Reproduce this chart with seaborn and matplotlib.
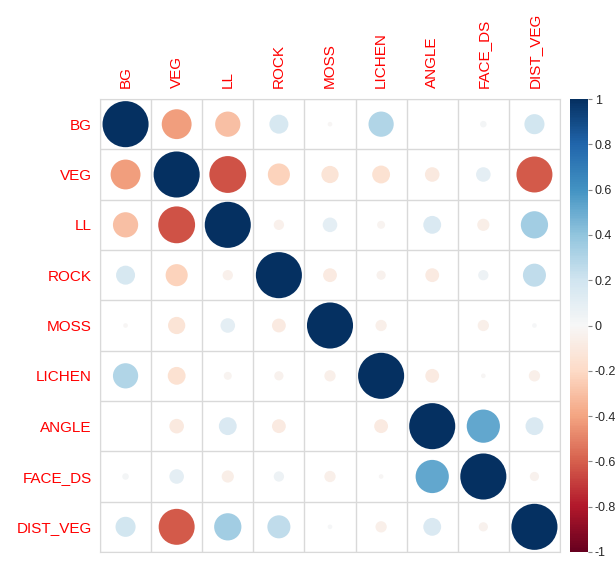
import numpy as np
import pandas as pd
import matplotlib
matplotlib.use('Agg')
import matplotlib.pyplot as plt
import seaborn as sns

# Variable names (rows and columns of the correlation matrix)
labels = ['BG', 'VEG', 'LL', 'ROCK', 'MOSS', 'LICHEN', 'ANGLE', 'FACE_DS', 'DIST_VEG']

# Upper triangle of the correlation matrix, row by row
r_bg = [-0.42, -0.30, 0.17, -0.01, 0.30, 0.00, 0.02, 0.19]
r_veg = [-0.64, -0.23, -0.14, -0.15, -0.10, 0.10, -0.61]
r_ll = [-0.05, 0.10, -0.03, 0.15, -0.07, 0.35]
r_rock = [-0.09, -0.04, -0.09, 0.05, 0.25]
r_moss = [-0.06, 0.00, -0.06, 0.01]
r_lichen = [-0.09, -0.01, -0.06]
r_angle = [0.52, 0.15]
r_face = [-0.04]

# colour bar ticks
cbar_ticks = [-1, -0.8, -0.6, -0.4, -0.2, 0, 0.2, 0.4, 0.6, 0.8, 1]

upper = [r_bg, r_veg, r_ll, r_rock, r_moss, r_lichen, r_angle, r_face]

n = len(labels)
corr = np.eye(n)
for i, row in enumerate(upper):
    for k, v in enumerate(row):
        j = i + 1 + k
        corr[i, j] = v
        corr[j, i] = v

# long form for seaborn
rows = []
for i in range(n):
    for j in range(n):
        rows.append({'x': j, 'y': i, 'r': corr[i, j], 'size': abs(corr[i, j])})
df = pd.DataFrame(rows)

sns.set_style('white')
plt.rcParams['font.family'] = ['Liberation Sans', 'DejaVu Sans']

fig = plt.figure(figsize=(6.16, 5.61), dpi=100)
ax = fig.add_axes([100 / 616, 1 - 552 / 561, 460 / 616, 453 / 561])
cax = fig.add_axes([570 / 616, 1 - 552 / 561, 18 / 616, 453 / 561])

# corrplot style: -1 dark red, +1 dark blue
cmap = plt.get_cmap('RdBu')
sns.scatterplot(data=df, x='x', y='y', hue='r', size='size',
                palette=cmap, hue_norm=(-1, 1),
                sizes=(0, 1100), size_norm=(0, 1),
                linewidth=0, legend=False, ax=ax)

ax.set_xlim(-0.5, n - 0.5)
ax.set_ylim(n - 0.5, -0.5)
ax.set_xticks(range(n))
ax.set_yticks(range(n))
ax.set_xticklabels(labels, rotation=90, color='red', fontsize=11)
ax.set_yticklabels(labels, color='red', fontsize=11)
ax.xaxis.tick_top()
ax.tick_params(axis='x', length=0, pad=8)
ax.tick_params(axis='y', length=0, pad=6)
ax.set_xlabel('')
ax.set_ylabel('')

# cell grid
ax.set_xticks(np.arange(-0.5, n, 1), minor=True)
ax.set_yticks(np.arange(-0.5, n, 1), minor=True)
ax.grid(which='minor', color='#d9d9d9', linewidth=1)
ax.grid(which='major', visible=False)
ax.tick_params(which='minor', length=0)
for s in ax.spines.values():
    s.set_color('#d9d9d9')
ax.set_axisbelow(True)

# colour bar
sm = plt.cm.ScalarMappable(norm=plt.Normalize(-1, 1), cmap=cmap)
cb = fig.colorbar(sm, cax=cax)
cb.set_ticks(cbar_ticks)
cb.set_ticklabels(['%g' % t for t in cbar_ticks])
cb.outline.set_visible(False)
cax.tick_params(length=3, color='#888888', labelsize=9, pad=2)

fig.savefig('out.png', dpi=100)
